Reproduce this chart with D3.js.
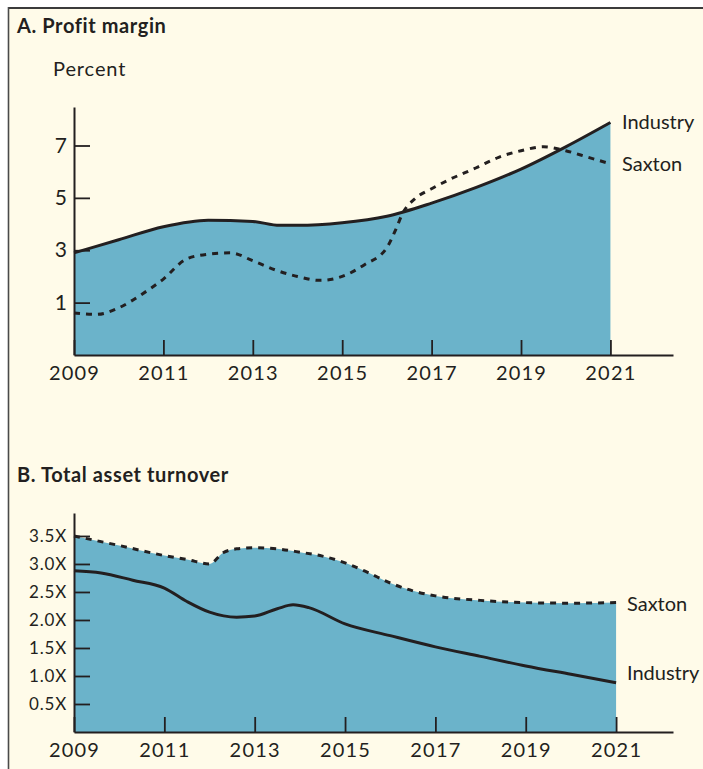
<!DOCTYPE html>
<html>
<head>
<meta charset="utf-8">
<script src="https://cdn.jsdelivr.net/npm/d3@7"></script>
<style>
  html, body { margin: 0; padding: 0; background: #ffffff; }
  svg { display: block; }
  text { font-family: Lato, "Open Sans", sans-serif; fill: #231f20; }
</style>
</head>
<body>
<svg id="chart" width="703" height="769"></svg>
<script>
// ---------- Data ----------
const xTickYears = [2009, 2011, 2013, 2015, 2017, 2019, 2021];

// Panel A: Profit margin (percent)
const marginYTicks = [1, 3, 5, 7];
const marginIndustryYears = [2009, 2010, 2011, 2012, 2013, 2013.6, 2014, 2015, 2016, 2017, 2018, 2019, 2020, 2021];
const marginIndustry      = [2.9, 3.4, 3.9, 4.15, 4.1, 3.95, 3.95, 4.05, 4.3, 4.8, 5.4, 6.1, 6.95, 7.88];
const marginSaxtonYears = [2009, 2009.5, 2010, 2010.5, 2011, 2011.5, 2012, 2012.5, 2013, 2013.5, 2014, 2014.5, 2015, 2015.5, 2016, 2016.2, 2016.35, 2016.65, 2017, 2017.4, 2018, 2018.5, 2019, 2019.5, 2020, 2020.5, 2021];
const marginSaxton      = [0.6, 0.55, 0.8, 1.3, 1.9, 2.65, 2.85, 2.9, 2.6, 2.25, 2.0, 1.85, 2.0, 2.45, 3.1, 3.8, 4.4, 5.0, 5.35, 5.7, 6.15, 6.55, 6.8, 6.95, 6.8, 6.55, 6.3];

// Panel B: Total asset turnover (times)
const turnoverYTicks = [0.5, 1.0, 1.5, 2.0, 2.5, 3.0, 3.5];
const turnoverSaxtonYears = [2009, 2010, 2011, 2011.5, 2012, 2012.3, 2012.6, 2013, 2013.5, 2014, 2014.5, 2015, 2015.5, 2016, 2016.5, 2017, 2018, 2019, 2020, 2021];
const turnoverSaxton      = [3.5, 3.33, 3.15, 3.08, 3.0, 3.2, 3.27, 3.29, 3.27, 3.21, 3.14, 3.02, 2.85, 2.66, 2.52, 2.43, 2.35, 2.31, 2.3, 2.31];
const turnoverIndustryYears = [2009, 2009.6, 2010.3, 2011, 2011.5, 2012, 2012.6, 2013, 2013.5, 2013.85, 2014.2, 2015, 2016, 2017, 2018, 2019, 2020, 2021];
const turnoverIndustry      = [2.88, 2.84, 2.71, 2.57, 2.33, 2.14, 2.05, 2.07, 2.2, 2.27, 2.22, 1.93, 1.72, 1.52, 1.35, 1.18, 1.03, 0.88];

// ---------- Drawing ----------
const ink = "#231f20";
const fillBlue = "#6bb3ca";
const svg = d3.select("#chart");

// cream background + frame
svg.append("rect").attr("x", 8).attr("y", 7).attr("width", 695).attr("height", 762).attr("fill", "#fffbe9");
svg.append("line").attr("x1", 8).attr("x2", 703).attr("y1", 8).attr("y2", 8).attr("stroke", "#3b3b3b").attr("stroke-width", 2.2);
svg.append("line").attr("x1", 8.5).attr("x2", 8.5).attr("y1", 7).attr("y2", 769).attr("stroke", "#4a4a4a").attr("stroke-width", 1.6);

const zip = (xs, ys) => xs.map((x, i) => ({x, y: ys[i]}));

function panel(cfg) {
  const g = svg.append("g");
  const x = d3.scaleLinear().domain(cfg.xDomain).range([74, 673]);
  const y = d3.scaleLinear().domain(cfg.yDomain).range([cfg.bottom, cfg.top]);

  const fillData = zip(cfg.fillYears, cfg.fillValues);
  g.append("path")
    .datum(fillData)
    .attr("fill", fillBlue)
    .attr("d", d3.area().curve(d3.curveMonotoneX).x(d => x(d.x)).y0(cfg.bottom).y1(d => y(d.y)));

  // Y axis
  const yAxis = d3.axisLeft(y).tickValues(cfg.yTicks).tickFormat(cfg.yFormat)
    .tickSize(-16).tickSizeOuter(0).tickPadding(7);
  const ya = g.append("g").attr("transform", "translate(74,0)").call(yAxis);
  ya.select(".domain").attr("stroke", ink).attr("stroke-width", 2);
  ya.selectAll(".tick line").attr("stroke", ink).attr("stroke-width", 1.8);
  ya.selectAll(".tick text").attr("font-size", cfg.yFontSize).attr("fill", ink)
    .style("font-family", "Lato, sans-serif").style("letter-spacing", cfg.ySpacing);

  // X axis
  const xAxis = d3.axisBottom(x).tickValues(xTickYears).tickFormat(d3.format("d"))
    .tickSize(-15).tickSizeOuter(0).tickPadding(11);
  const xa = g.append("g").attr("transform", `translate(0,${cfg.bottom})`).call(xAxis);
  xa.select(".domain").attr("stroke", ink).attr("stroke-width", 2);
  xa.selectAll(".tick line").attr("stroke", ink).attr("stroke-width", 1.8);
  xa.selectAll(".tick text").attr("font-size", 20).attr("fill", ink)
    .style("font-family", "Lato, sans-serif").style("letter-spacing", "1.2px");

  const line = d3.line().curve(d3.curveMonotoneX).x(d => x(d.x)).y(d => y(d.y));

  g.append("path").datum(zip(cfg.dashYears, cfg.dashValues))
    .attr("fill", "none").attr("stroke", ink).attr("stroke-width", 3)
    .attr("stroke-dasharray", "6,6").attr("d", line);
  g.append("path").datum(zip(cfg.solidYears, cfg.solidValues))
    .attr("fill", "none").attr("stroke", ink).attr("stroke-width", 3).attr("d", line);

  // Titles and labels
  g.append("text").attr("x", 17).attr("y", cfg.titleY).attr("font-size", 20).attr("font-weight", 700)
    .style("letter-spacing", "0.6px").text(cfg.title);
  cfg.labels.forEach(l => {
    g.append("text").attr("x", l.x).attr("y", y(l.v)).attr("dy", "0.35em").attr("font-size", 20).text(l.text);
  });
  return {x, y};
}

panel({
  title: "A. Profit margin", titleY: 33,
  xDomain: [2009, 2022.4], yDomain: [-1, 8.47], top: 107, bottom: 355,
  yTicks: marginYTicks, yFormat: d3.format("d"), yFontSize: 21, ySpacing: "0px",
  fillYears: marginIndustryYears, fillValues: marginIndustry,
  solidYears: marginIndustryYears, solidValues: marginIndustry,
  dashYears: marginSaxtonYears, dashValues: marginSaxton,
  labels: [{x: 622, v: 7.9, text: "Industry"}, {x: 622, v: 6.3, text: "Saxton"}]
});
svg.append("text").attr("x", 53).attr("y", 76).attr("font-size", 20).style("letter-spacing", "0.9px").text("Percent");

panel({
  title: "B. Total asset turnover", titleY: 482,
  xDomain: [2009, 2022.26], yDomain: [0, 3.91], top: 513, bottom: 732,
  yTicks: turnoverYTicks, yFormat: d => d3.format(".1f")(d) + "X", yFontSize: 17, ySpacing: "0.8px",
  fillYears: turnoverSaxtonYears, fillValues: turnoverSaxton,
  solidYears: turnoverIndustryYears, solidValues: turnoverIndustry,
  dashYears: turnoverSaxtonYears, dashValues: turnoverSaxton,
  labels: [{x: 627, v: 2.28, text: "Saxton"}, {x: 627, v: 1.05, text: "Industry"}]
});
</script>
</body>
</html>
